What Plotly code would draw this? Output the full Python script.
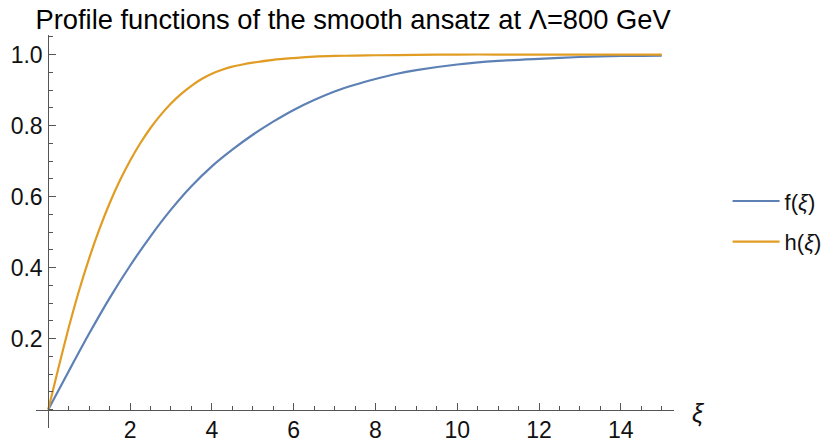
import plotly.graph_objects as go

# ---- data ----
xi_f = [0, 0.5, 1, 1.5, 2, 2.5, 3, 3.5, 4, 4.5, 5, 5.5, 6, 6.5, 7, 7.5, 8, 8.5, 9, 10, 11, 12, 13, 14, 15]
f_vals = [0, 0.108, 0.214, 0.314, 0.405, 0.488, 0.563, 0.629, 0.685, 0.732, 0.774, 0.811, 0.844, 0.872,
          0.896, 0.915, 0.931, 0.945, 0.956, 0.972, 0.982, 0.988, 0.993, 0.996, 0.997]

xi_h = [0, 0.25, 0.5, 0.75, 1, 1.25, 1.5, 1.75, 2, 2.25, 2.5, 2.75, 3, 3.25, 3.5, 3.75, 4, 4.25, 4.5,
        4.75, 5, 5.5, 6, 6.5, 7, 7.5, 8, 9, 10, 11, 12, 13, 14, 15]
h_vals = [0, 0.118, 0.231, 0.334, 0.426, 0.508, 0.581, 0.645, 0.701, 0.750, 0.793, 0.830, 0.862, 0.889,
          0.912, 0.931, 0.946, 0.957, 0.966, 0.972, 0.977, 0.985, 0.990, 0.994, 0.996, 0.997, 0.998,
          0.999, 1.0, 1.0, 1.0, 1.0, 1.0, 1.0]

series_names = ["f(<i>ξ</i>)", "h(<i>ξ</i>)"]
series_colors = ["#5E81B5", "#E19C24"]

x_tick_vals = [2, 4, 6, 8, 10, 12, 14]
x_tick_text = ["2", "4", "6", "8", "10", "12", "14"]
y_tick_vals = [0.2, 0.4, 0.6, 0.8, 1.0]
y_tick_text = ["0.2", "0.4", "0.6", "0.8", "1.0"]

title_text = "Profile functions of the smooth ansatz at Λ=800 GeV"
x_label = "<i>ξ</i>"

X_RANGE = [-0.3, 15.3]
Y_RANGE = [-0.052, 1.055]

FONT = "Liberation Sans, Arial, sans-serif"
AXIS_COLOR = "#555555"
TEXT_COLOR = "#111111"

fig = go.Figure()
for i, (xs, ys) in enumerate([(xi_f, f_vals), (xi_h, h_vals)]):
    fig.add_trace(go.Scatter(x=xs, y=ys, mode="lines", name=series_names[i],
                             legendgroup="g%d" % i,
                             line=dict(color=series_colors[i], width=2.2, shape="spline", smoothing=0.8)))

x_pos = (0 - Y_RANGE[0]) / (Y_RANGE[1] - Y_RANGE[0])
y_pos = (0 - X_RANGE[0]) / (X_RANGE[1] - X_RANGE[0])

fig.update_layout(
    width=823, height=444,
    margin=dict(l=36, r=149, t=35, b=16, autoexpand=False),
    paper_bgcolor="white", plot_bgcolor="white",
    font=dict(family=FONT, size=23, color=TEXT_COLOR),
    title=dict(text=title_text, x=0.497, xref="paper", xanchor="center",
               y=1 - 19 / 444, yref="container", yanchor="middle",
               font=dict(family=FONT, size=27.3, color="#000000")),
    showlegend=True,
    legend=dict(x=1.084, xanchor="left", y=0.525, yanchor="middle",
                font=dict(family=FONT, size=22, color=TEXT_COLOR),
                traceorder="grouped", itemwidth=47, tracegroupgap=9,
                bgcolor="rgba(0,0,0,0)"),
    xaxis=dict(range=X_RANGE, showgrid=False, zeroline=False,
               anchor="free", position=x_pos,
               showline=True, linecolor=AXIS_COLOR, linewidth=1,
               tickmode="array", tickvals=x_tick_vals, ticktext=x_tick_text,
               ticks="inside", ticklen=7, tickcolor=AXIS_COLOR, tickwidth=1,
               ticklabelstandoff=0,
               minor=dict(tickmode="linear", tick0=0, dtick=0.5, ticks="inside",
                          ticklen=4, tickcolor=AXIS_COLOR, tickwidth=1, showgrid=False),
               tickfont=dict(family=FONT, size=23, color=TEXT_COLOR)),
    yaxis=dict(range=Y_RANGE, showgrid=False, zeroline=False,
               anchor="free", position=y_pos,
               showline=True, linecolor=AXIS_COLOR, linewidth=1,
               tickmode="array", tickvals=y_tick_vals, ticktext=y_tick_text,
               ticks="inside", ticklen=7, tickcolor=AXIS_COLOR, tickwidth=1,
               ticklabelstandoff=1,
               minor=dict(tickmode="linear", tick0=0, dtick=0.05, ticks="inside",
                          ticklen=4, tickcolor=AXIS_COLOR, tickwidth=1, showgrid=False),
               tickfont=dict(family=FONT, size=23, color=TEXT_COLOR)),
)

fig.add_annotation(text=x_label, xref="paper", yref="paper", x=1.025, y=x_pos - 0.01,
                   xanchor="left", yanchor="middle", showarrow=False,
                   font=dict(family=FONT, size=25, color=TEXT_COLOR))

fig.write_html("out.html", config={"displayModeBar": False},
               post_script="document.body.style.margin='0';document.body.style.overflow='hidden';")
